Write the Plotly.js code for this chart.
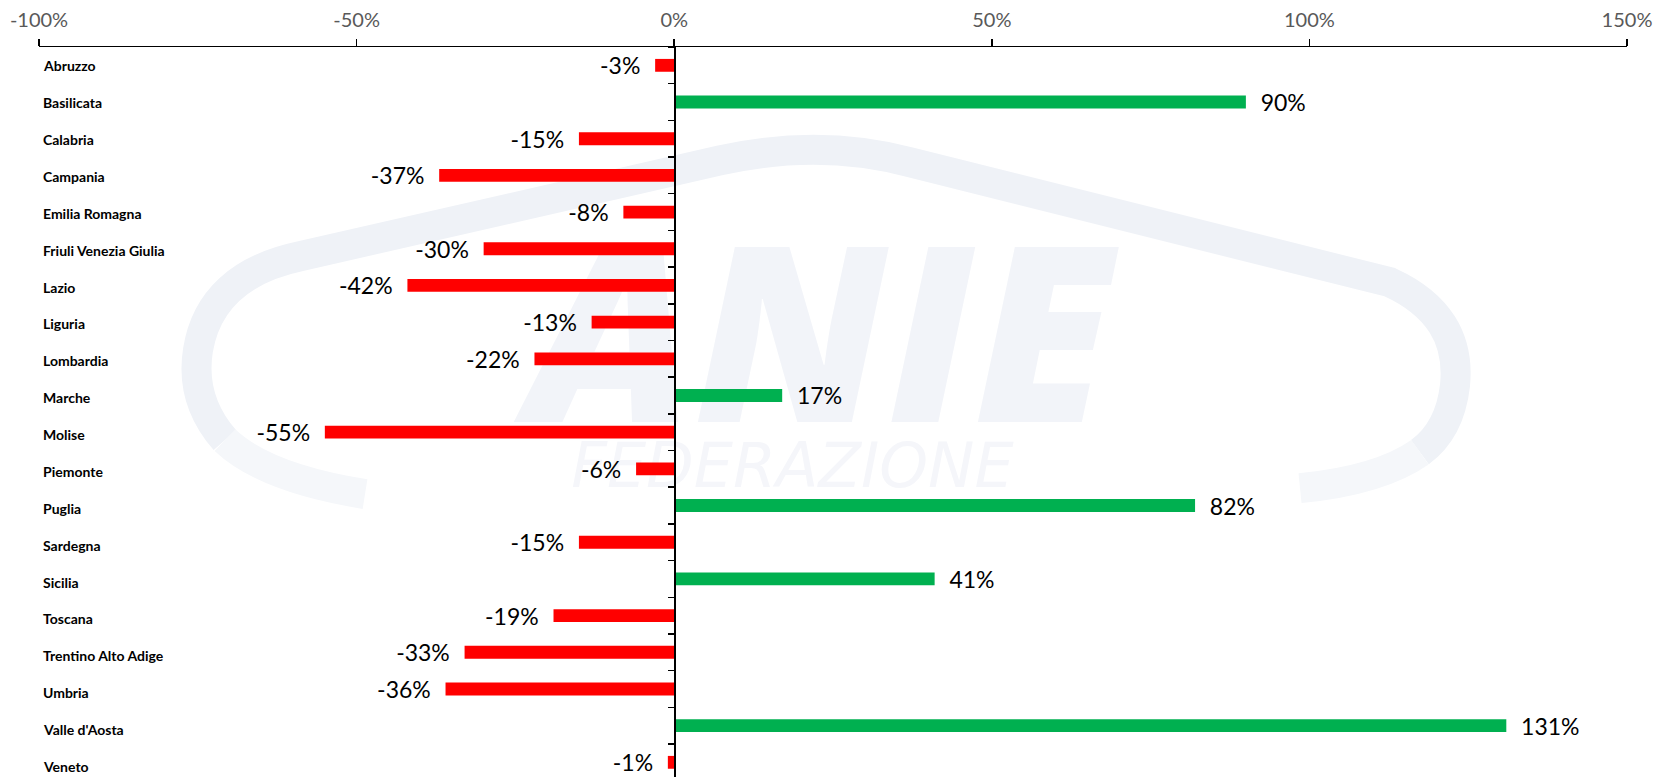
<!DOCTYPE html>
<html>
<head>
<meta charset="utf-8">
<script src="https://cdn.plot.ly/plotly-3.0.1.min.js"></script>
<style>html,body{margin:0;padding:0;background:#fff;}#chart{width:1655px;height:777px;}</style>
</head>
<body>
<div id="chart"></div>
<script>
const categories = ["Abruzzo","Basilicata","Calabria","Campania","Emilia Romagna","Friuli Venezia Giulia","Lazio","Liguria","Lombardia","Marche","Molise","Piemonte","Puglia","Sardegna","Sicilia","Toscana","Trentino Alto Adige","Umbria","Valle d'Aosta","Veneto"];
const changes = [-3, 90, -15, -37, -8, -30, -42, -13, -22, 17, -55, -6, 82, -15, 41, -19, -33, -36, 131, -1];
const tickValues = [-100, -50, 0, 50, 100, 150];
const tickLabels = ["-100%", "-50%", "0%", "50%", "100%", "150%"];

const NEG = "#FF0000", POS = "#00B050";
const GAP = "\u00a0\u00a0";
const barColors = changes.map(v => v < 0 ? NEG : POS);
const barText = changes.map(v => v < 0 ? (v + "%" + GAP) : (GAP + v + "%"));
const FONT = "Lato, 'Open Sans', sans-serif";

// watermark helper (decoration only): pixel -> paper
const L = 39, T = 46.6, W = 1588, H = 730.4;
const px = X => ((X - L) / W).toFixed(4);
const py = Y => (1 - (Y - T) / H).toFixed(4);
const P = (X, Y) => px(X) + "," + py(Y);
const wmMain = `M ${P(225,440)} Q ${P(190,400)} ${P(198,350)} Q ${P(210,275)} ${P(300,256)} L ${P(720,160)} Q ${P(820,138)} ${P(910,162)} L ${P(1390,282)} Q ${P(1462,315)} ${P(1455,385)} Q ${P(1450,430)} ${P(1420,452)}`;
const wmLeftEnd = `M ${P(225,440)} Q ${P(265,478)} ${P(365,494)}`;
const wmRightEnd = `M ${P(1420,452)} Q ${P(1380,480)} ${P(1300,488)}`;

const annotations = categories.map(c => ({
  xref: "paper", yref: "y2", x: 0, y: c, xanchor: "left", yanchor: "middle",
  xshift: 2, text: c, showarrow: false,
  font: {family: FONT, size: 14, weight: 700, color: "#000"}
}));

const data = [
  {
    type: "bar", orientation: "h",
    x: changes, y: categories,
    marker: {color: barColors},
    width: 0.35,
    text: barText, textposition: "outside", constraintext: "none", cliponaxis: false,
    textfont: {family: FONT, size: 23, color: "#000"},
    hoverinfo: "skip", showlegend: false
  },
  {
    type: "scatter", mode: "markers",
    x: changes, y: categories, yaxis: "y2",
    marker: {opacity: 0}, hoverinfo: "skip", showlegend: false
  }
];

const layout = {
  width: 1655, height: 777,
  margin: {l: L, r: 28, t: T, b: 0},
  paper_bgcolor: "#fff", plot_bgcolor: "rgba(0,0,0,0)",
  showlegend: false,
  xaxis: {
    side: "top", range: [-100, 150],
    tickvals: tickValues, ticktext: tickLabels,
    showgrid: false, zeroline: false,
    showline: true, linecolor: "#000", linewidth: 1.5,
    ticks: "outside", ticklen: 7, tickwidth: 1.5, tickcolor: "#000",
    ticklabelstandoff: 4,
    tickfont: {family: FONT, size: 20, color: "#595959"},
    fixedrange: true
  },
  yaxis: {
    type: "category", categoryorder: "array", categoryarray: categories,
    range: [19.4, -0.5],
    anchor: "free", position: 0.4,
    showline: true, linecolor: "#000", linewidth: 1.5,
    ticks: "outside", tickson: "boundaries", ticklen: 6, tickwidth: 1.5, tickcolor: "#000",
    showticklabels: false, showgrid: false, zeroline: false, fixedrange: true
  },
  yaxis2: {
    type: "category", categoryorder: "array", categoryarray: categories,
    overlaying: "y", anchor: "free", position: 0, side: "left",
    range: [19.285, -0.509],
    showticklabels: false, ticks: "",
    showline: false, showgrid: false, zeroline: false, fixedrange: true
  },
  annotations: annotations,
  shapes: [
    {type: "path", xref: "paper", yref: "paper", path: wmMain, layer: "below",
     line: {color: "#eff2f7", width: 30}, fillcolor: "rgba(0,0,0,0)"},
    {type: "path", xref: "paper", yref: "paper", path: wmLeftEnd, layer: "below",
     line: {color: "#f5f7fa", width: 30}, fillcolor: "rgba(0,0,0,0)"},
    {type: "path", xref: "paper", yref: "paper", path: wmRightEnd, layer: "below",
     line: {color: "#f5f7fa", width: 30}, fillcolor: "rgba(0,0,0,0)"},
    {type: "rect", xref: "paper", yref: "paper", layer: "below",
     x0: px(515), x1: px(1125), y0: py(440), y1: py(248),
     line: {width: 0}, fillcolor: "rgba(0,0,0,0)",
     label: {text: "ANIE", textposition: "middle center",
             font: {family: "Open Sans", size: 245, weight: 800, style: "italic", color: "#f2f4f9"}}},
    {type: "rect", xref: "paper", yref: "paper", layer: "below",
     x0: px(515), x1: px(1070), y0: py(482), y1: py(440),
     line: {width: 0}, fillcolor: "rgba(0,0,0,0)",
     label: {text: "FEDERAZIONE", textposition: "middle center",
             font: {family: "DejaVu Sans", size: 62, style: "italic", color: "#f5f6fa"}}}
  ]
};

Plotly.newPlot("chart", data, layout, {staticPlot: true, displayModeBar: false});
</script>
</body>
</html>
